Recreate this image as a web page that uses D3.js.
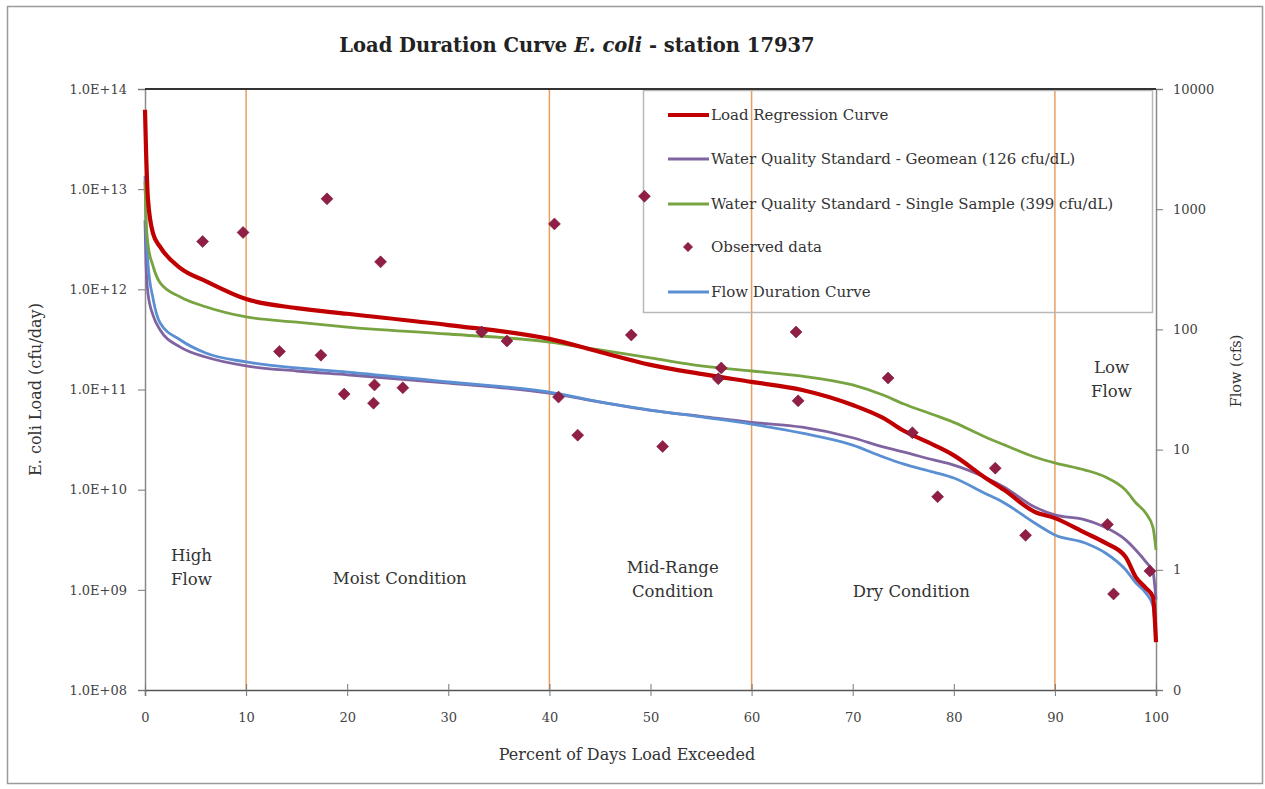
<!DOCTYPE html>
<html><head><meta charset="utf-8">
<script src="https://cdn.jsdelivr.net/npm/d3@7"></script>
<style>
html,body{margin:0;padding:0;background:#fff;}
svg{display:block;}
text{font-family:"DejaVu Serif",serif;}
</style></head>
<body>
<svg id="chart" width="1265" height="789"></svg>
<script>
// ---------- data ----------
const pct = [0, 0.1, 0.3, 0.8, 1.5, 3.5, 6, 10, 15, 20, 30, 40, 45, 50, 55, 60, 65, 70, 73, 75, 78, 80, 83, 85, 88, 90, 93, 95, 97, 98, 99, 99.7, 100];
const loadRegression = [6.2e13, 2.5e13, 7.8e12, 3.6e12, 2.65e12, 1.63e12, 1.21e12, 8.0e11, 6.5e11, 5.7e11, 4.4e11, 3.2e11, 2.37e11, 1.76e11, 1.43e11, 1.19e11, 9.9e10, 7.0e10, 5.2e10, 3.9e10, 2.8e10, 2.2e10, 1.34e10, 9.9e9, 6.0e9, 5.2e9, 3.7e9, 2.94e9, 2.13e9, 1.34e9, 1.04e9, 8.5e8, 3.0e8];
const geomeanStd = [4.9e12, 1.8e12, 9.0e11, 5.5e11, 3.93e11, 2.65e11, 2.11e11, 1.72e11, 1.53e11, 1.40e11, 1.16e11, 9.2e10, 7.5e10, 6.2e10, 5.4e10, 4.7e10, 4.2e10, 3.3e10, 2.67e10, 2.38e10, 1.98e10, 1.76e10, 1.34e10, 1.06e10, 6.7e9, 5.6e9, 5.0e9, 4.2e9, 3.15e9, 2.5e9, 1.9e9, 1.5e9, 8.0e8];
const singleSampleStd = [1.2e13, 5.2e12, 2.8e12, 1.7e12, 1.16e12, 8.4e11, 6.7e11, 5.3e11, 4.7e11, 4.2e11, 3.58e11, 2.98e11, 2.48e11, 2.07e11, 1.72e11, 1.53e11, 1.36e11, 1.11e11, 8.8e10, 7.2e10, 5.6e10, 4.7e10, 3.4e10, 2.8e10, 2.12e10, 1.85e10, 1.57e10, 1.34e10, 9.9e9, 7.4e9, 5.8e9, 4.2e9, 2.5e9];
const flowCfs = [1900, 700, 350, 180, 113, 81.6, 63.6, 53.6, 47.8, 44.2, 36.5, 30.1, 24.9, 21.3, 18.7, 16.3, 13.7, 10.9, 8.7, 7.6, 6.5, 5.8, 4.36, 3.6, 2.45, 1.95, 1.67, 1.38, 1.0, 0.78, 0.64, 0.5, 0.25];

const obsPct  = [5.7, 9.7, 18.0, 23.3, 13.3, 17.4, 19.7, 22.7, 22.6, 25.5, 33.3, 35.8, 40.5, 40.9, 42.8, 48.1, 49.4, 51.2, 57.0, 56.7, 64.4, 64.6, 73.5, 75.9, 78.4, 84.1, 87.1, 95.2, 95.8, 99.4];
const obsLoad = [3.0e12, 3.7e12, 8.0e12, 1.88e12, 2.4e11, 2.2e11, 9.0e10, 1.11e11, 7.3e10, 1.04e11, 3.75e11, 3.05e11, 4.5e12, 8.4e10, 3.5e10, 3.5e11, 8.5e12, 2.7e10, 1.64e11, 1.28e11, 3.75e11, 7.7e10, 1.3e11, 3.7e10, 8.5e9, 1.64e10, 3.5e9, 4.5e9, 9.1e8, 1.54e9];

const leftTicks = [1e8, 1e9, 1e10, 1e11, 1e12, 1e13, 1e14];
const leftTickLabels = ["1.0E+08", "1.0E+09", "1.0E+10", "1.0E+11", "1.0E+12", "1.0E+13", "1.0E+14"];
const rightTicks = [0.1, 1, 10, 100, 1000, 10000];
const rightTickLabels = ["0", "1", "10", "100", "1000", "10000"];
const xTicks = [0, 10, 20, 30, 40, 50, 60, 70, 80, 90, 100];
const conditionBounds = [10, 40, 60, 90];
const regionNames = [["High", "Flow"], ["Moist Condition"], ["Mid-Range", "Condition"], ["Dry Condition"], ["Low", "Flow"]];
const regionPct = [4.6, 25.2, 52.2, 75.8, 95.6];
const regionLoad = [2.23e9, 1.31e9, 1.69e9, 9.7e8, 1.68e11];

const legendNames = ["Load Regression Curve", "Water Quality Standard - Geomean (126 cfu/dL)", "Water Quality Standard - Single Sample (399 cfu/dL)", "Observed data", "Flow Duration Curve"];

// ---------- layout ----------
const svg = d3.select("#chart");
const M = {left: 145, right: 1156, top: 89, bottom: 690};
const x = d3.scaleLinear().domain([0, 100]).range([M.left, M.right]);
const yL = d3.scaleLog().domain([1e8, 1e14]).range([M.bottom, M.top]);
const yR = d3.scaleLog().domain([0.1, 10000]).range([M.bottom, M.top]);

const colors = {red: "#c00000", purple: "#8064a2", green: "#78a341", blue: "#5b8fd3", obs: "#901e45", cond: "#e89e60"};

// outer frame
svg.append("rect").attr("x", 7.5).attr("y", 6.5).attr("width", 1255).attr("height", 777)
  .attr("fill", "#fff").attr("stroke", "#9a9a9a").attr("stroke-width", 1.5);

// title
const title = svg.append("text").attr("x", 577).attr("y", 52).attr("text-anchor", "middle")
  .attr("font-size", 19.5).attr("font-weight", "bold").attr("fill", "#222");
title.append("tspan").text("Load Duration Curve ");
title.append("tspan").attr("font-style", "italic").text("E. coli");
title.append("tspan").text(" - station 17937");

// condition separator lines
svg.append("g").selectAll("line").data(conditionBounds).join("line")
  .attr("x1", d => x(d)).attr("x2", d => x(d)).attr("y1", M.top).attr("y2", M.bottom)
  .attr("stroke", colors.cond).attr("stroke-width", 1.5);

// legend box
const lg = svg.append("g");
lg.append("rect").attr("x", 643.5).attr("y", 90.5).attr("width", 509).attr("height", 222)
  .attr("fill", "none").attr("stroke", "#b8b8b8").attr("stroke-width", 1.5);

// axes
const leftAxis = d3.axisLeft(yL).tickValues(leftTicks).tickFormat((d, i) => leftTickLabels[i]).tickSize(7).tickPadding(11);
const gL = svg.append("g").attr("transform", `translate(${M.left},0)`).call(leftAxis);
const rightAxis = d3.axisRight(yR).tickValues(rightTicks).tickFormat((d, i) => rightTickLabels[i]).tickSize(7).tickPadding(10);
const gR = svg.append("g").attr("transform", `translate(${M.right},0)`).call(rightAxis);
const bottomAxis = d3.axisBottom(x).tickValues(xTicks).tickFormat(d3.format("d")).tickSize(6).tickPadding(17);
const gB = svg.append("g").attr("transform", `translate(0,${M.bottom})`).call(bottomAxis);
gB.selectAll(".tick line").attr("y1", -6);
[gL, gR, gB].forEach(g => {
  g.select(".domain").attr("stroke", "#8a8a8a").attr("stroke-width", 1.5);
  g.selectAll(".tick line").attr("stroke", "#777");
  g.selectAll(".tick text").attr("font-size", 13).attr("fill", "#444").attr("font-family", "DejaVu Serif");
});
gB.select(".domain").attr("stroke", "#555");
// top border
svg.append("line").attr("x1", M.left).attr("x2", M.right).attr("y1", M.top).attr("y2", M.top)
  .attr("stroke", "#333").attr("stroke-width", 2);

// axis titles
svg.append("text").attr("transform", `translate(41,${(M.top + M.bottom) / 2}) rotate(-90)`)
  .attr("text-anchor", "middle").attr("font-size", 16).attr("fill", "#333").text("E. coli Load (cfu/day)");
svg.append("text").attr("transform", `translate(1241,371) rotate(-90)`)
  .attr("text-anchor", "middle").attr("font-size", 14.5).attr("fill", "#333").text("Flow (cfs)");
svg.append("text").attr("x", 627).attr("y", 760).attr("text-anchor", "middle")
  .attr("font-size", 16).attr("fill", "#333").text("Percent of Days Load Exceeded");

// region labels
regionNames.forEach((lines, i) => {
  const t = svg.append("text").attr("x", x(regionPct[i])).attr("y", yL(regionLoad[i]))
    .attr("text-anchor", "middle").attr("font-size", 16.5).attr("fill", "#333");
  lines.forEach((s, j) => t.append("tspan").attr("x", x(regionPct[i])).attr("dy", j === 0 ? 6 : 24).text(s));
});

// curves
const lineL = d3.line().x((d, i) => x(pct[i])).y(d => yL(d)).curve(d3.curveMonotoneX);
const lineR = d3.line().x((d, i) => x(pct[i])).y(d => yR(d)).curve(d3.curveMonotoneX);
const plot = svg.append("g");
plot.append("path").datum(geomeanStd).attr("d", lineL).attr("fill", "none").attr("stroke", colors.purple).attr("stroke-width", 2.8);
plot.append("path").datum(flowCfs).attr("d", lineR).attr("fill", "none").attr("stroke", colors.blue).attr("stroke-width", 2.8);
plot.append("path").datum(singleSampleStd).attr("d", lineL).attr("fill", "none").attr("stroke", colors.green).attr("stroke-width", 2.8);
plot.append("path").datum(loadRegression).attr("d", lineL).attr("fill", "none").attr("stroke", colors.red).attr("stroke-width", 4.2);

// observed points (square rotated 45° = diamond)
const diamond = d3.symbol().type(d3.symbolSquare).size(72);
plot.selectAll("path.obs").data(obsPct).join("path").attr("class", "obs")
  .attr("transform", (d, i) => `translate(${x(d)},${yL(obsLoad[i])}) rotate(45)`)
  .attr("d", diamond).attr("fill", colors.obs).attr("stroke", "#701234").attr("stroke-width", 0.5);

// legend entries
const legendColors = [colors.red, colors.purple, colors.green, colors.obs, colors.blue];
const legendWidths = [4.2, 2.8, 2.8, 0, 2.8];
const legendY = [115, 159, 204, 247, 292];
legendNames.forEach((name, i) => {
  const yy = legendY[i];
  if (i === 3) {
    lg.append("path").attr("transform", `translate(688,${yy}) rotate(45)`).attr("d", d3.symbol().type(d3.symbolSquare).size(50)).attr("fill", colors.obs);
  } else {
    lg.append("line").attr("x1", 668).attr("x2", 709).attr("y1", yy).attr("y2", yy)
      .attr("stroke", legendColors[i]).attr("stroke-width", legendWidths[i]);
  }
  lg.append("text").attr("x", 711).attr("y", yy + 5).attr("font-size", 15).attr("fill", "#333").text(name);
});
</script>
</body></html>
